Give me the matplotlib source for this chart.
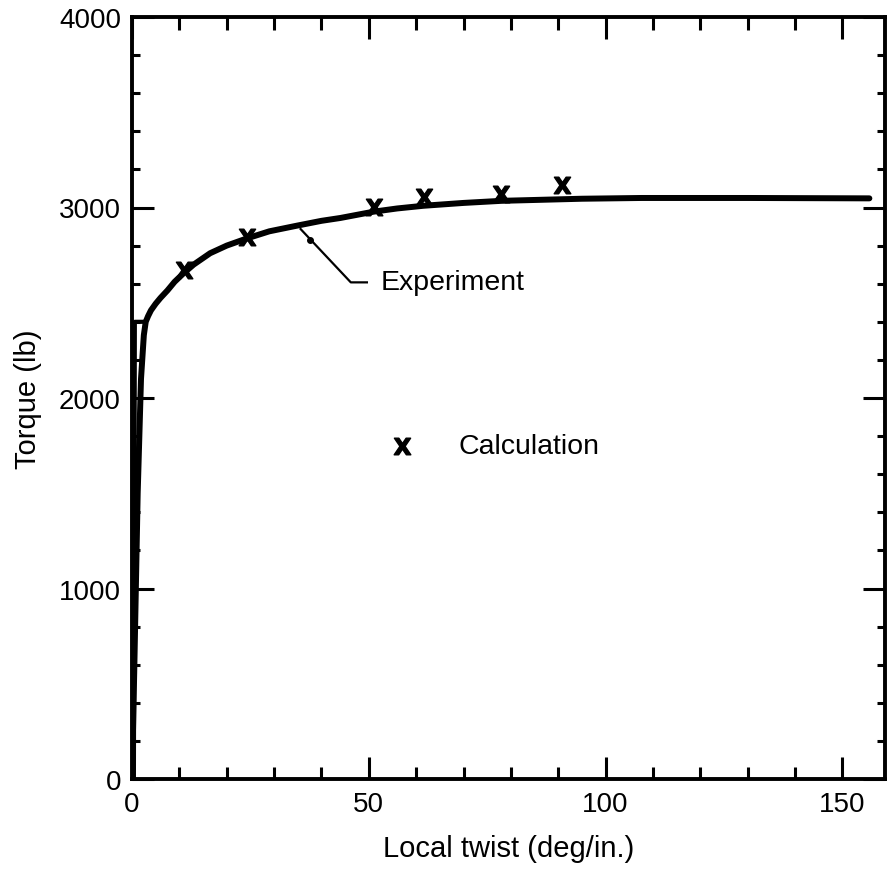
import numpy as np
import matplotlib
matplotlib.use("Agg")
import matplotlib.pyplot as plt
from matplotlib.ticker import MultipleLocator

plt.rcParams['font.family'] = ['Liberation Sans', 'DejaVu Sans']

# experiment curve
exp_x = [0, 0.5, 1.2, 1.9, 2.5, 2.9, 3.4, 4.0, 5.0, 6.0, 7.5, 9.0, 10.9, 13.0,
         16.5, 20.0, 24.3, 29.0, 34.9, 40.0, 44.0, 51.0, 56.0, 61.5, 70.0,
         78.0, 95.0, 107.6, 130.0, 155.7]
exp_y = [0, 600, 1500, 2100, 2330, 2400, 2430, 2460, 2495, 2525, 2565, 2610,
         2655, 2700, 2760, 2800, 2838, 2875, 2905, 2930, 2945, 2978, 2995,
         3009, 3024, 3035, 3046, 3050, 3050, 3048]
# second stroke near the origin (elastic part drawn twice)
exp2_x = [0.4, 0.5, 0.6, 2.7]
exp2_y = [0, 1200, 2400, 2400]

# calculation points
calc_x = [10.9, 24.3, 51.0, 61.7, 78.0, 90.7]
calc_y = [2670, 2845, 3005, 3055, 3071, 3118]

fig = plt.figure(figsize=(8.9, 8.7), dpi=100)
ax = fig.add_axes([132/890, 90/870, 753/890, 762/870])

ax.plot(exp_x, exp_y, color="black", lw=4.3, solid_capstyle="round",
        solid_joinstyle="round")
ax.plot(exp2_x, exp2_y, color="black", lw=3.0)
ax.plot(calc_x, calc_y, ls="none", marker=r"$\mathbf{X}$", ms=12, color="black")

# labels inside the plot
ax.plot([35.6, 46.2, 49.6], [2887, 2607, 2607], color="black", lw=1.6)
ax.plot([37.5], [2830], marker="o", ms=4, color="black")
ax.text(52.5, 2607, "Experiment", fontsize=20.5, va="center", ha="left")
ax.plot([57.0], [1748], ls="none", marker=r"$\mathbf{X}$", ms=12, color="black")
ax.text(68.9, 1748, "Calculation", fontsize=20.5, va="center", ha="left")

ax.set_xlim(0, 159)
ax.set_ylim(0, 4000)
ax.xaxis.set_major_locator(MultipleLocator(50))
ax.xaxis.set_minor_locator(MultipleLocator(10))
ax.yaxis.set_major_locator(MultipleLocator(1000))
ax.yaxis.set_minor_locator(MultipleLocator(200))

ax.tick_params(which="both", direction="in", top=True, right=True,
               labelsize=20, width=2.2)
ax.tick_params(axis="x", which="major", length=16, pad=9)
ax.tick_params(axis="x", which="minor", length=9)
ax.tick_params(axis="y", which="major", length=16, pad=8)
ax.tick_params(axis="y", which="minor", length=6)
for s in ax.spines.values():
    s.set_linewidth(2.8)

ax.set_xlabel("Local twist (deg/in.)", fontsize=21, labelpad=12)
ax.set_ylabel("Torque (lb)", fontsize=21, labelpad=12)

fig.savefig("out.png", dpi=100)
